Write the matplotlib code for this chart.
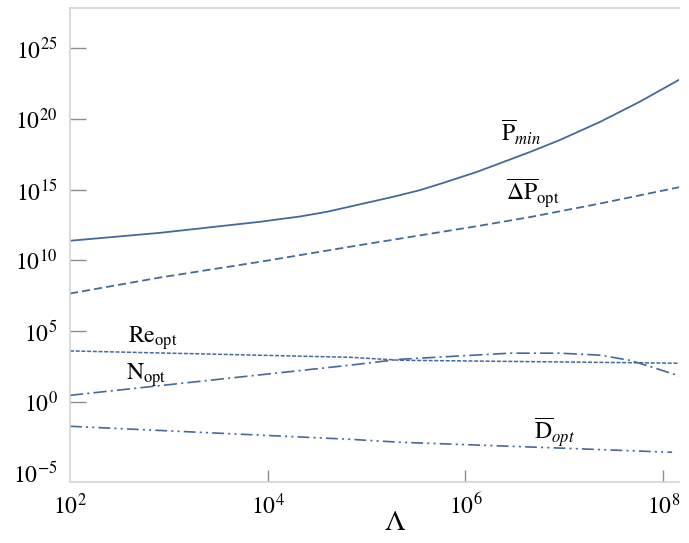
import numpy as np
import matplotlib
matplotlib.use("Agg")
import matplotlib.pyplot as plt

plt.rcParams['font.family'] = ['Liberation Serif', 'DejaVu Serif']
plt.rcParams['mathtext.fontset'] = 'stix'
plt.rcParams['lines.scale_dashes'] = False

# values, as log10 of Lambda and log10 of the quantity
p_min_lam = [2.00, 2.91, 3.92, 4.33, 4.60, 5.27, 5.54, 5.77, 6.12, 6.65, 6.95, 7.36, 7.76, 8.17]
p_min_val = [11.38, 11.94, 12.72, 13.10, 13.43, 14.49, 14.96, 15.46, 16.26, 17.65, 18.49, 19.78, 21.20, 22.80]

dp_opt_lam = [2.00, 2.91, 3.92, 4.93, 6.15, 6.65, 7.36, 8.17]
dp_opt_val = [7.65, 8.78, 9.89, 11.07, 12.45, 13.05, 14.01, 15.18]

re_opt_lam = [2.00, 4.83, 5.34, 8.17]
re_opt_val = [3.59, 3.14, 2.93, 2.72]

n_opt_lam = [2.00, 4.83, 5.34, 6.45, 6.95, 7.36, 7.66, 7.89, 8.17]
n_opt_val = [0.45, 2.58, 3.00, 3.43, 3.43, 3.29, 2.93, 2.44, 1.80]

d_opt_lam = [2.00, 4.83, 5.34, 7.03, 8.09]
d_opt_val = [-1.74, -2.66, -2.87, -3.30, -3.58]

x_ticks = [2, 4, 6, 8]
y_ticks = [-5, 0, 5, 10, 15, 20, 25]

color = "#44699b"

fig = plt.figure(figsize=(6.89, 5.43), dpi=100)
ax = fig.add_axes([70 / 689, 1 - 482 / 543, 609 / 689, 474 / 543])

def pw(v):
    return 10.0 ** np.array(v)

ax.plot(pw(p_min_lam), pw(p_min_val), color=color, lw=1.3, ls='-')
ax.plot(pw(dp_opt_lam), pw(dp_opt_val), color=color, lw=1.3, ls=(0, (5.8, 3.0)))
ax.plot(pw(re_opt_lam), pw(re_opt_val), color=color, lw=1.1, ls=(0, (2.9, 1.2)))
ax.plot(pw(n_opt_lam), pw(n_opt_val), color=color, lw=1.2, ls=(0, (9.5, 3, 1.5, 3)))
ax.plot(pw(d_opt_lam), pw(d_opt_val), color=color, lw=1.2, ls=(0, (8.5, 3, 1.5, 3, 1.5, 3)))

ax.set_xscale('log')
ax.set_yscale('log')
ax.set_xlim(1e2, 10 ** 8.16)
ax.set_ylim(10 ** -5.68, 10 ** 27.84)
ax.minorticks_off()

ax.set_xticks(pw(x_ticks))
ax.set_xticklabels([r'$10^{%d}$' % t for t in x_ticks])
ax.set_yticks(pw(y_ticks))
ax.set_yticklabels([r'$10^{%d}$' % t for t in y_ticks])

ax.tick_params(axis='x', direction='in', length=8.5, width=1.0, color='#8c8c8c',
               labelsize=17, pad=8)
ax.tick_params(axis='y', direction='in', length=11.5, width=1.0, color='#8c8c8c',
               labelsize=17, pad=9)
ax.xaxis.get_major_ticks()[0].tick1line.set_visible(False)
ax.yaxis.get_major_ticks()[0].tick1line.set_visible(False)

for side in ['left', 'bottom', 'top']:
    ax.spines[side].set_color('#d4d4d4')
    ax.spines[side].set_linewidth(1.2)
ax.spines['right'].set_visible(False)

ax.set_xlabel(r'$\Lambda$', fontsize=21)
ax.xaxis.set_label_coords(0.534, -0.06)

lab = dict(transform=ax.transAxes, ha='center', va='center', fontsize=17)
ax.text(0.741, 0.738, r'$\overline{\mathrm{P}}_{min}$', **lab)
ax.text(0.760, 0.610, r'$\overline{\Delta\mathrm{P}}_{\mathrm{opt}}$', **lab)
ax.text(0.136, 0.304, r'$\mathrm{Re}_{\mathrm{opt}}$', **lab)
ax.text(0.126, 0.226, r'$\mathrm{N}_{\mathrm{opt}}$', **lab)
ax.text(0.796, 0.105, r'$\overline{\mathrm{D}}_{opt}$', **lab)

fig.savefig("out.png", dpi=100)
